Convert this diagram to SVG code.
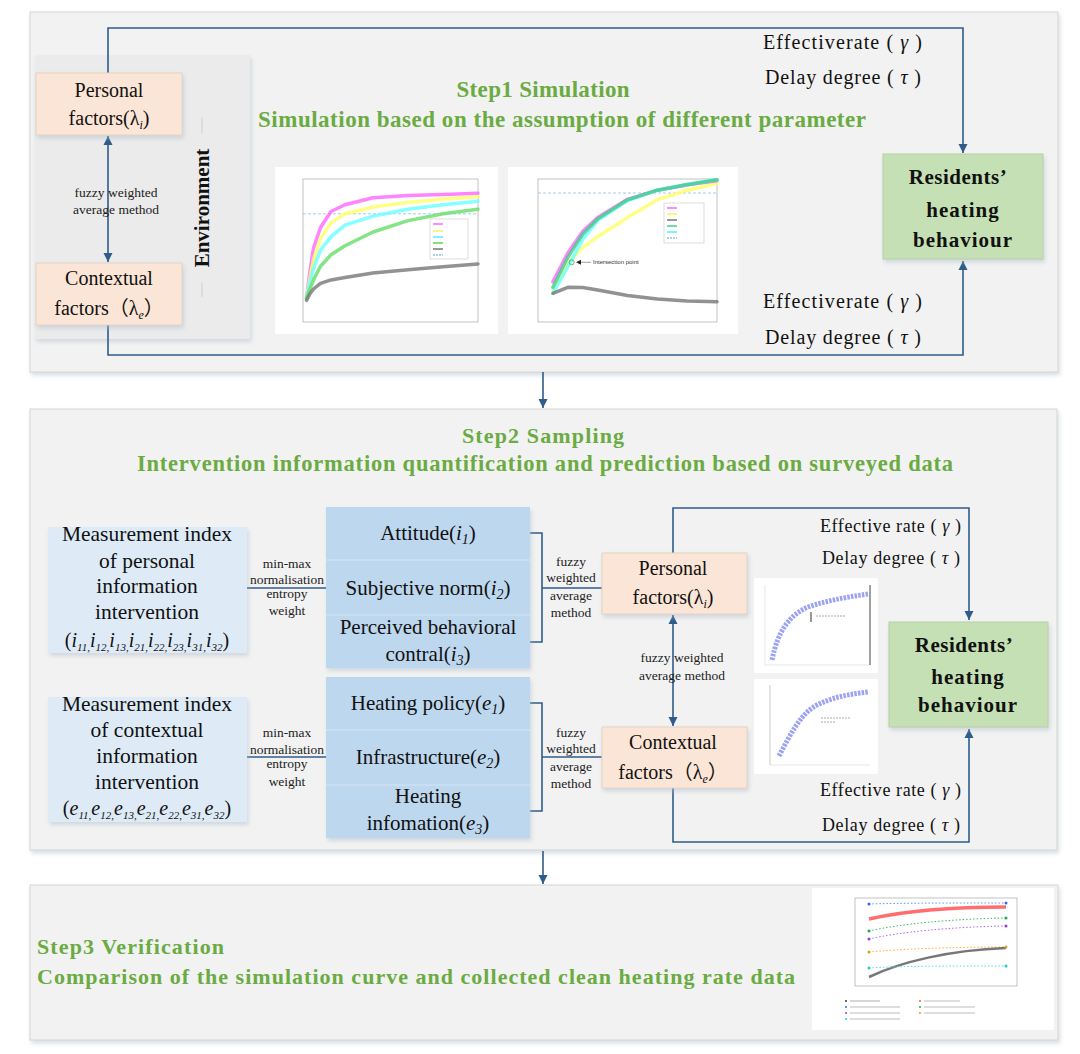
<svg xmlns="http://www.w3.org/2000/svg" width="1080" height="1054" viewBox="0 0 1080 1054">
<defs>
<style>
.serif{font-family:"Liberation Serif","Times New Roman","Noto Sans CJK SC",serif;fill:#111}
.t18{font-size:20px}
.t19{font-size:20px}
.t21{font-size:21px}
.t17{font-size:18px}
.sm{font-size:13.5px;font-family:"Liberation Serif","Times New Roman",serif;fill:#222}
.green{font-family:"Liberation Serif","Times New Roman",serif;fill:#6aab42}
.bold{font-weight:bold}
.it{font-style:italic}
.panel{fill:#f2f2f2;stroke:#d6d6d6;stroke-width:1}
.peach{fill:#fbe5d6;stroke:#e6d2c4;stroke-width:1}
.lblue{fill:#deebf7}
.mblue{fill:#bdd7ee}
.gbox{fill:#c5e0b4;stroke:#b8d0a8;stroke-width:1}
.conn{fill:none;stroke:#2f5c8a;stroke-width:1.6}
.chart{fill:#fff}
.frame{fill:none;stroke:#9a9a9a;stroke-width:0.6}
.cv{fill:none;stroke-width:3.5;stroke-linejoin:round;stroke-linecap:round;opacity:0.8}
</style>
<filter id="sh" x="-5%" y="-5%" width="110%" height="115%">
<feDropShadow dx="1.5" dy="3" stdDeviation="2" flood-color="#aab8c8" flood-opacity="0.45"/>
</filter>
<marker id="ah" viewBox="0 0 10 10" refX="10" refY="5" markerWidth="9" markerHeight="10" markerUnits="userSpaceOnUse" orient="auto-start-reverse">
<path d="M0,0 L10,5 L0,10 z" fill="#2f5c8a"/>
</marker>
</defs>

<!-- Step panels -->
<g id="step1-panel">
<rect class="panel" x="30" y="12" width="1028" height="360" filter="url(#sh)"/>
<text class="green bold" x="543" y="97" font-size="23" text-anchor="middle" textLength="173" lengthAdjust="spacing">Step1 Simulation</text>
<text class="green bold" x="562" y="127" font-size="23" text-anchor="middle" textLength="608" lengthAdjust="spacing">Simulation based on the assumption of different parameter</text>
</g>
<g id="environment">
<rect x="35" y="55" width="215" height="284" fill="#ebebeb" filter="url(#sh)"/>
<line x1="202" y1="117" x2="202" y2="133" stroke="#c6c6c6" stroke-width="0.8"/>
<line x1="202" y1="283" x2="202" y2="297" stroke="#c6c6c6" stroke-width="0.8"/>
<text class="serif bold" x="0" y="0" font-size="21" text-anchor="middle" transform="translate(209,208) rotate(-90)">Environment</text>
</g>
<g id="step2-panel">
<rect class="panel" x="30" y="409" width="1027" height="441" filter="url(#sh)"/>
<text class="green bold" x="543" y="443" font-size="22" text-anchor="middle" textLength="162" lengthAdjust="spacing">Step2 Sampling</text>
<text class="green bold" x="545" y="471" font-size="22.5" text-anchor="middle" textLength="816" lengthAdjust="spacing">Intervention information quantification and prediction based on surveyed data</text>
</g>
<g id="step3-panel">
<rect class="panel" x="30" y="885" width="1028" height="155" filter="url(#sh)"/>
<text class="green bold" x="37" y="954" font-size="22" textLength="187" lengthAdjust="spacing">Step3 Verification</text>
<text class="green bold" x="37" y="984" font-size="22" textLength="758" lengthAdjust="spacing">Comparison of the simulation curve and collected clean heating rate data</text>
</g>

<!-- Connectors -->
<g id="connectors">
<path class="conn" d="M108,73 V28 H963 V153" marker-end="url(#ah)"/>
<path class="conn" d="M108,325 V355 H963 V261" marker-end="url(#ah)"/>
<line class="conn" x1="108" y1="136" x2="108" y2="262" marker-start="url(#ah)" marker-end="url(#ah)"/>
<line class="conn" x1="543" y1="372" x2="543" y2="408" marker-end="url(#ah)"/>
<line class="conn" x1="543" y1="851" x2="543" y2="884" marker-end="url(#ah)"/>
<line class="conn" x1="247" y1="588" x2="327" y2="588"/>
<line class="conn" x1="247" y1="757" x2="327" y2="757"/>
<path class="conn" d="M530,533 H542 V642 H530 M542,588 H602"/>
<path class="conn" d="M530,703 H542 V811 H530 M542,757 H602"/>
<line class="conn" x1="673" y1="615" x2="673" y2="726" marker-start="url(#ah)" marker-end="url(#ah)"/>
<path class="conn" d="M673,553 V508 H969 V620" marker-end="url(#ah)"/>
<path class="conn" d="M673,788 V842 H969 V729" marker-end="url(#ah)"/>
</g>

<!-- connector labels -->
<g id="labels">
<text class="sm" x="116" y="197" text-anchor="middle">fuzzy weighted</text>
<text class="sm" x="116" y="214" text-anchor="middle">average method</text>
<text class="serif t18" x="763" y="49" textLength="159" lengthAdjust="spacing">Effectiverate ( <tspan class="it">γ</tspan> )</text>
<text class="serif t18" x="765" y="84" textLength="156" lengthAdjust="spacing">Delay degree ( <tspan class="it">τ</tspan> )</text>
<text class="serif t18" x="763" y="308" textLength="159" lengthAdjust="spacing">Effectiverate ( <tspan class="it">γ</tspan> )</text>
<text class="serif t18" x="765" y="344" textLength="156" lengthAdjust="spacing">Delay degree ( <tspan class="it">τ</tspan> )</text>
<text class="sm" x="287" y="568" text-anchor="middle">min-max</text>
<text class="sm" x="287" y="584" text-anchor="middle">normalisation</text>
<text class="sm" x="287" y="598" text-anchor="middle">entropy</text>
<text class="sm" x="287" y="615" text-anchor="middle">weight</text>
<text class="sm" x="287" y="737" text-anchor="middle">min-max</text>
<text class="sm" x="287" y="754" text-anchor="middle">normalisation</text>
<text class="sm" x="287" y="768" text-anchor="middle">entropy</text>
<text class="sm" x="287" y="786" text-anchor="middle">weight</text>
<text class="sm" x="571" y="566" text-anchor="middle">fuzzy</text>
<text class="sm" x="571" y="582" text-anchor="middle">weighted</text>
<text class="sm" x="571" y="600" text-anchor="middle">average</text>
<text class="sm" x="571" y="617" text-anchor="middle">method</text>
<text class="sm" x="571" y="737" text-anchor="middle">fuzzy</text>
<text class="sm" x="571" y="753" text-anchor="middle">weighted</text>
<text class="sm" x="571" y="771" text-anchor="middle">average</text>
<text class="sm" x="571" y="788" text-anchor="middle">method</text>
<text class="sm" x="682" y="662" text-anchor="middle">fuzzy weighted</text>
<text class="sm" x="682" y="680" text-anchor="middle">average method</text>
<text class="serif t17" x="820" y="532" textLength="141" lengthAdjust="spacing">Effective rate ( <tspan class="it">γ</tspan> )</text>
<text class="serif t17" x="822" y="564" textLength="138" lengthAdjust="spacing">Delay degree ( <tspan class="it">τ</tspan> )</text>
<text class="serif t17" x="820" y="796" textLength="141" lengthAdjust="spacing">Effective rate ( <tspan class="it">γ</tspan> )</text>
<text class="serif t17" x="822" y="831" textLength="138" lengthAdjust="spacing">Delay degree ( <tspan class="it">τ</tspan> )</text>
</g>

<!-- Step1 nodes -->
<g id="personal1">
<rect class="peach" x="36" y="73" width="146" height="62" filter="url(#sh)"/>
<text class="serif t19" x="109" y="97" text-anchor="middle">Personal</text>
<text class="serif t19" x="109" y="125" text-anchor="middle">factors(λ<tspan class="it" font-size="12" dy="4">i</tspan><tspan dy="-4">)</tspan></text>
</g>
<g id="contextual1">
<rect class="peach" x="36" y="263" width="146" height="62" filter="url(#sh)"/>
<text class="serif t19" x="109" y="285" text-anchor="middle">Contextual</text>
<text class="serif t19" x="109" y="315" text-anchor="middle">factors（λ<tspan class="it" font-size="12" dy="4">e</tspan><tspan dy="-4">）</tspan></text>
</g>
<g id="residents1">
<rect class="gbox" x="883" y="154" width="160" height="105" filter="url(#sh)"/>
<text class="serif bold" x="958" y="184" font-size="21" text-anchor="middle" letter-spacing="0.5">Residents’</text>
<text class="serif bold" x="963" y="217" font-size="21" text-anchor="middle" letter-spacing="1">heating</text>
<text class="serif bold" x="963" y="247" font-size="21" text-anchor="middle" letter-spacing="1">behaviour</text>
</g>

<!-- Chart 1 -->
<g id="chart1">
<rect class="chart" x="275" y="167" width="223" height="167"/>
<rect class="frame" x="303" y="179" width="175" height="143"/>
<line x1="303" y1="213.8" x2="478" y2="213.8" stroke="#8cc0ea" stroke-width="0.8" stroke-dasharray="3,2"/>
<polyline class="cv" stroke="#ff66ff" points="306.5,298.2 310,270.8 313.5,248 320.5,227.5 331,211.5 345,204.7 373,197.8 408,195.6 443,194.4 478,193.3"/>
<polyline class="cv" stroke="#ffff66" points="306.5,298.2 310,277.6 313.5,259.4 320.5,238.9 331,222.9 345,213.8 373,207 408,202.4 443,199 478,196.7"/>
<polyline class="cv" stroke="#66ffff" points="306.5,298.2 310,282.2 313.5,268.5 320.5,250.3 331,236.6 345,225.2 373,216.1 408,209.2 443,204.7 478,201.3"/>
<polyline class="cv" stroke="#66dd66" points="306.5,298.2 310,289 313.5,279.9 320.5,266.2 331,254.8 345,245.7 373,232 408,220.6 443,213.8 478,209.2"/>
<polyline class="cv" stroke="#777" points="306.5,300.4 310,293.6 313.5,289 320.5,283.3 331,279.9 345,277.6 373,273.1 408,269.7 443,266.7 478,264"/>
<rect x="430" y="219" width="38" height="40" fill="#fff" stroke="#bbb" stroke-width="0.5"/>
<g stroke-width="1.5">
<line x1="433" y1="224" x2="443" y2="224" stroke="#ff66ff"/>
<line x1="433" y1="231" x2="443" y2="231" stroke="#ffee55"/>
<line x1="433" y1="237" x2="443" y2="237" stroke="#55eeff"/>
<line x1="433" y1="243" x2="443" y2="243" stroke="#55dd55"/>
<line x1="433" y1="249" x2="443" y2="249" stroke="#777"/>
<line x1="433" y1="255" x2="443" y2="255" stroke="#8cc0ea" stroke-dasharray="2,1"/>
</g>
</g>

<!-- Chart 2 -->
<g id="chart2">
<rect class="chart" x="508" y="167" width="230" height="167"/>
<rect class="frame" x="538" y="179" width="179" height="143"/>
<line x1="538" y1="193" x2="717" y2="193" stroke="#8cc0ea" stroke-width="0.8" stroke-dasharray="3,2"/>
<polyline class="cv" stroke="#ffff66" points="552.9,290 567.8,263.2 582.8,247.6 597.7,236.7 627.5,217.6 657.4,199.8 687.2,190.2 717,183.4"/>
<polyline class="cv" stroke="#ff66ff" points="552.9,281.8 567.8,253.1 582.8,231.2 597.7,217.6 627.5,199.3 657.4,190.2 687.2,184.8 717,180.7"/>
<polyline class="cv" stroke="#66ffff" points="552.9,293.3 567.8,266.8 582.8,239.4 597.7,220.3 627.5,200.6 657.4,190.2 687.2,184.2 717,179.8"/>
<polyline class="cv" stroke="#44cc88" points="552.9,287.3 567.8,257.2 582.8,234 597.7,218.9 627.5,199.8 657.4,190.2 687.2,184.8 717,179.8"/>
<polyline class="cv" stroke="#777" points="552.9,293.3 567.8,287.3 582.8,287.5 597.7,290 627.5,295.5 657.4,299 687.2,300.9 717,301.7"/>
<circle cx="571.7" cy="262.3" r="2.5" fill="none" stroke="#4a4" stroke-width="0.8"/>
<path d="M576,262.3 L581,259.8 L581,264.8 z" fill="#222"/>
<line x1="581" y1="262.3" x2="591" y2="262.3" stroke="#444" stroke-width="0.5"/>
<text x="593" y="264.3" font-size="6" font-family="Liberation Sans, Arial, sans-serif" fill="#333">Intersection point</text>
<rect x="664" y="203" width="40" height="40" fill="#fff" stroke="#bbb" stroke-width="0.5"/>
<g stroke-width="1.5">
<line x1="667" y1="208" x2="677" y2="208" stroke="#ff66ff"/>
<line x1="667" y1="214" x2="677" y2="214" stroke="#ffee55"/>
<line x1="667" y1="220" x2="677" y2="220" stroke="#777"/>
<line x1="667" y1="226" x2="677" y2="226" stroke="#44cc88"/>
<line x1="667" y1="232" x2="677" y2="232" stroke="#55eeff"/>
<line x1="667" y1="238" x2="677" y2="238" stroke="#8cc0ea" stroke-dasharray="2,1"/>
</g>
</g>

<!-- Step2 nodes -->
<g id="measure-personal">
<rect class="lblue" x="48" y="527" width="199" height="126" filter="url(#sh)"/>
<text class="serif" x="147" y="541" font-size="21.5" text-anchor="middle">Measurement index</text>
<text class="serif" x="147" y="568" font-size="21.5" text-anchor="middle">of personal</text>
<text class="serif" x="147" y="593" font-size="21.5" text-anchor="middle">information</text>
<text class="serif" x="147" y="619" font-size="21.5" text-anchor="middle">intervention</text>
<text class="serif" x="147" y="647" font-size="20" text-anchor="middle">(<tspan class="it">i</tspan><tspan class="it" font-size="11" dy="4">11,</tspan><tspan class="it" dy="-4">i</tspan><tspan class="it" font-size="11" dy="4">12,</tspan><tspan class="it" dy="-4">i</tspan><tspan class="it" font-size="11" dy="4">13,</tspan><tspan class="it" dy="-4">i</tspan><tspan class="it" font-size="11" dy="4">21,</tspan><tspan class="it" dy="-4">i</tspan><tspan class="it" font-size="11" dy="4">22,</tspan><tspan class="it" dy="-4">i</tspan><tspan class="it" font-size="11" dy="4">23,</tspan><tspan class="it" dy="-4">i</tspan><tspan class="it" font-size="11" dy="4">31,</tspan><tspan class="it" dy="-4">i</tspan><tspan class="it" font-size="11" dy="4">32</tspan><tspan dy="-4">)</tspan></text>
</g>
<g id="measure-contextual">
<rect class="lblue" x="48" y="697" width="199" height="125" filter="url(#sh)"/>
<text class="serif" x="147" y="711" font-size="21.5" text-anchor="middle">Measurement index</text>
<text class="serif" x="147" y="737" font-size="21.5" text-anchor="middle">of contextual</text>
<text class="serif" x="147" y="763" font-size="21.5" text-anchor="middle">information</text>
<text class="serif" x="147" y="789" font-size="21.5" text-anchor="middle">intervention</text>
<text class="serif" x="147" y="815" font-size="20" text-anchor="middle">(<tspan class="it">e</tspan><tspan class="it" font-size="11" dy="4">11,</tspan><tspan class="it" dy="-4">e</tspan><tspan class="it" font-size="11" dy="4">12,</tspan><tspan class="it" dy="-4">e</tspan><tspan class="it" font-size="11" dy="4">13,</tspan><tspan class="it" dy="-4">e</tspan><tspan class="it" font-size="11" dy="4">21,</tspan><tspan class="it" dy="-4">e</tspan><tspan class="it" font-size="11" dy="4">22,</tspan><tspan class="it" dy="-4">e</tspan><tspan class="it" font-size="11" dy="4">31,</tspan><tspan class="it" dy="-4">e</tspan><tspan class="it" font-size="11" dy="4">32</tspan><tspan dy="-4">)</tspan></text>
</g>
<g id="personal-dimensions">
<rect class="mblue" x="326" y="507" width="204" height="161" filter="url(#sh)"/>
<line x1="326" y1="560" x2="530" y2="560" stroke="#cfe1f2" stroke-width="1.5"/>
<line x1="326" y1="615" x2="530" y2="615" stroke="#cfe1f2" stroke-width="1.5"/>
<text class="serif t21" x="428" y="540" text-anchor="middle">Attitude(<tspan class="it">i</tspan><tspan class="it" font-size="14" dy="4">1</tspan><tspan dy="-4">)</tspan></text>
<text class="serif t21" x="428" y="595" text-anchor="middle">Subjective norm(<tspan class="it">i</tspan><tspan class="it" font-size="14" dy="4">2</tspan><tspan dy="-4">)</tspan></text>
<text class="serif t21" x="428" y="634" text-anchor="middle">Perceived behavioral</text>
<text class="serif t21" x="428" y="661" text-anchor="middle">contral(<tspan class="it">i</tspan><tspan class="it" font-size="14" dy="4">3</tspan><tspan dy="-4">)</tspan></text>
</g>
<g id="contextual-dimensions">
<rect class="mblue" x="326" y="677" width="204" height="161" filter="url(#sh)"/>
<line x1="326" y1="730" x2="530" y2="730" stroke="#cfe1f2" stroke-width="1.5"/>
<line x1="326" y1="785" x2="530" y2="785" stroke="#cfe1f2" stroke-width="1.5"/>
<text class="serif t21" x="428" y="710" text-anchor="middle">Heating policy(<tspan class="it">e</tspan><tspan class="it" font-size="14" dy="4">1</tspan><tspan dy="-4">)</tspan></text>
<text class="serif t21" x="428" y="764" text-anchor="middle">Infrastructure(<tspan class="it">e</tspan><tspan class="it" font-size="14" dy="4">2</tspan><tspan dy="-4">)</tspan></text>
<text class="serif t21" x="428" y="803" text-anchor="middle">Heating</text>
<text class="serif t21" x="428" y="830" text-anchor="middle">infomation(<tspan class="it">e</tspan><tspan class="it" font-size="14" dy="4">3</tspan><tspan dy="-4">)</tspan></text>
</g>
<g id="personal2">
<rect class="peach" x="602" y="553" width="145" height="61" filter="url(#sh)"/>
<text class="serif t19" x="673" y="575" text-anchor="middle">Personal</text>
<text class="serif t19" x="673" y="604" text-anchor="middle">factors(λ<tspan class="it" font-size="12" dy="4">i</tspan><tspan dy="-4">)</tspan></text>
</g>
<g id="contextual2">
<rect class="peach" x="602" y="727" width="145" height="61" filter="url(#sh)"/>
<text class="serif t19" x="673" y="749" text-anchor="middle">Contextual</text>
<text class="serif t19" x="673" y="779" text-anchor="middle">factors（λ<tspan class="it" font-size="12" dy="4">e</tspan><tspan dy="-4">）</tspan></text>
</g>
<g id="residents2">
<rect class="gbox" x="889" y="622" width="159" height="105" filter="url(#sh)"/>
<text class="serif bold" x="964" y="652" font-size="21" text-anchor="middle" letter-spacing="0.5">Residents’</text>
<text class="serif bold" x="968" y="684" font-size="21" text-anchor="middle" letter-spacing="1">heating</text>
<text class="serif bold" x="968" y="712" font-size="21" text-anchor="middle" letter-spacing="1">behaviour</text>
</g>

<!-- Step2 small charts -->
<g id="chart3">
<rect class="chart" x="754" y="578" width="124" height="95"/>
<line x1="765" y1="585" x2="765" y2="665" stroke="#ccc" stroke-width="0.5"/>
<line x1="765" y1="665" x2="870" y2="665" stroke="#ccc" stroke-width="0.5"/>
<path d="M772,660 C778,630 790,615 808,607 C828,600 848,597 868,594" fill="none" stroke="#7b83f0" stroke-width="5" stroke-dasharray="2.5,1.2" opacity="0.75"/>
<line x1="870" y1="585" x2="870" y2="665" stroke="#444" stroke-width="1"/>
<line x1="811" y1="612" x2="811" y2="622" stroke="#333" stroke-width="1"/>
<line x1="816" y1="616" x2="846" y2="616" stroke="#aaa" stroke-width="1" stroke-dasharray="2,1"/>
</g>
<g id="chart4">
<rect class="chart" x="754" y="679" width="124" height="95"/>
<line x1="770" y1="685" x2="770" y2="765" stroke="#aaa" stroke-width="0.6"/>
<line x1="770" y1="765" x2="870" y2="765" stroke="#ccc" stroke-width="0.5"/>
<path d="M779,756 C790,735 800,715 815,706 C832,697 850,694 868,692" fill="none" stroke="#7b83f0" stroke-width="5" stroke-dasharray="2.5,1.2" opacity="0.75"/>
<line x1="821" y1="718" x2="850" y2="718" stroke="#aaa" stroke-width="1" stroke-dasharray="2,1"/>
<line x1="821" y1="722" x2="835" y2="722" stroke="#aaa" stroke-width="1" stroke-dasharray="2,1"/>
</g>

<!-- Step3 chart -->
<g id="chart5">
<rect class="chart" x="812" y="888" width="242" height="142"/>
<rect class="frame" x="855" y="898" width="162" height="88"/>
<path d="M869,919 C900,912 950,907 1006,907" fill="none" stroke="#ff5555" stroke-width="3.5" opacity="0.85"/>
<path d="M869,904 C900,903 950,903 1006,903" fill="none" stroke="#5599ff" stroke-width="1" stroke-dasharray="1.5,2"/>
<path d="M869,931 C900,924 950,919 1006,918" fill="none" stroke="#33bb66" stroke-width="1" stroke-dasharray="1.5,2"/>
<path d="M869,939 C900,932 950,927 1006,926" fill="none" stroke="#aa66ee" stroke-width="1" stroke-dasharray="1.5,2"/>
<path d="M869,952 C900,949 950,947 1006,947" fill="none" stroke="#ffaa33" stroke-width="1" stroke-dasharray="1.5,2"/>
<path d="M869,977 C900,962 950,950 1006,948" fill="none" stroke="#555" stroke-width="2.5" opacity="0.8"/>
<path d="M869,968 C900,966 950,966 1006,966" fill="none" stroke="#55dddd" stroke-width="1" stroke-dasharray="1.5,2"/>
<g>
<circle cx="869" cy="904" r="1.5" fill="#3366ff"/><circle cx="1006" cy="903" r="1.5" fill="#3366ff"/>
<circle cx="869" cy="931" r="1.5" fill="#22aa55"/><circle cx="1006" cy="918" r="1.5" fill="#22aa55"/>
<circle cx="869" cy="939" r="1.5" fill="#8844dd"/><circle cx="1006" cy="926" r="1.5" fill="#8844dd"/>
<circle cx="869" cy="952" r="1.5" fill="#ee9922"/><circle cx="1006" cy="947" r="1.5" fill="#ee9922"/>
<circle cx="869" cy="968" r="1.5" fill="#22cccc"/><circle cx="1006" cy="966" r="1.5" fill="#22cccc"/>
</g>
<g stroke-width="1.2">
<circle cx="846" cy="1001" r="1" fill="#333"/><line x1="850" y1="1001" x2="880" y2="1001" stroke="#bbb"/>
<circle cx="920" cy="1001" r="1" fill="#ff5555"/><line x1="924" y1="1001" x2="960" y2="1001" stroke="#bbb"/>
<circle cx="846" cy="1007" r="1" fill="#3366ff"/><line x1="850" y1="1007" x2="900" y2="1007" stroke="#bbb"/>
<circle cx="920" cy="1007" r="1" fill="#22aa55"/><line x1="924" y1="1007" x2="975" y2="1007" stroke="#bbb"/>
<circle cx="846" cy="1013" r="1" fill="#8844dd"/><line x1="850" y1="1013" x2="900" y2="1013" stroke="#bbb"/>
<circle cx="920" cy="1013" r="1" fill="#ee9922"/><line x1="924" y1="1013" x2="975" y2="1013" stroke="#bbb"/>
<circle cx="846" cy="1019" r="1" fill="#22cccc"/><line x1="850" y1="1019" x2="900" y2="1019" stroke="#bbb"/>
</g>
</g>
</svg>
